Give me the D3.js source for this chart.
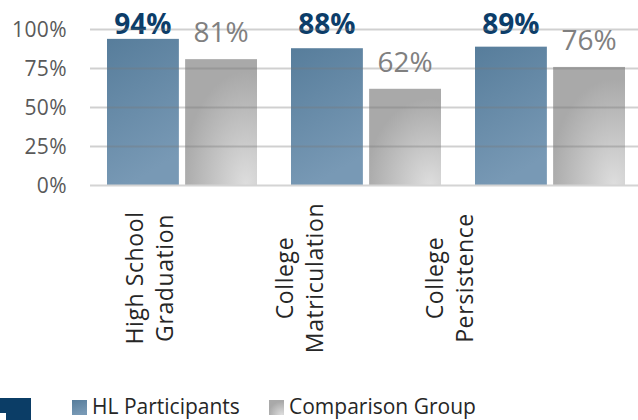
<!DOCTYPE html>
<html><head><meta charset="utf-8">
<script src="https://cdn.jsdelivr.net/npm/d3@7"></script>
<style>body{margin:0;background:#fff}svg{display:block}text{font-family:"Open Sans",sans-serif}</style>
</head><body><svg id="c" width="638" height="420"></svg>
<script>
const categories = [["High School","Graduation"],["College","Matriculation"],["College","Persistence"]];
const seriesNames = ["HL Participants","Comparison Group"];
const hlValues = [94, 88, 89];
const comparisonValues = [81, 62, 76];
const yTicks = [0, 25, 50, 75, 100];

const svg = d3.select("#c");
const defs = svg.append("defs");
const gb = defs.append("linearGradient").attr("id","gBlue").attr("x1",0).attr("y1",0).attr("x2",0.3).attr("y2",1);
gb.append("stop").attr("offset",0).attr("stop-color","#577d9b");
gb.append("stop").attr("offset",1).attr("stop-color","#7899b5");
const gg = defs.append("radialGradient").attr("id","gGray").attr("cx",0.85).attr("cy",1).attr("r",0.9);
gg.append("stop").attr("offset",0).attr("stop-color","#dedede");
gg.append("stop").attr("offset",1).attr("stop-color","#a9a9a9");

const x = d3.scaleBand().domain(d3.range(categories.length)).range([90, 642]).paddingInner(0).paddingOuter(0);
const inner = d3.scaleBand().domain([0,1]).range([17, 167]).paddingInner(0.08);
const y = d3.scaleLinear().domain([0, 100]).range([185.5, 29.5]);
const labelX = d3.scaleBand().domain(d3.range(categories.length)).range([75, 525]);

// y axis labels
svg.append("g").selectAll("text").data(yTicks).join("text")
  .attr("x", 67).attr("y", d => y(d)).attr("dy","0.36em")
  .attr("text-anchor","end").attr("font-size",21).attr("letter-spacing",0.4).attr("fill","#595959")
  .text(d => d + "%");

const series = [hlValues, comparisonValues];
const fills = ["url(#gBlue)","url(#gGray)"];
const groups = svg.append("g").selectAll("g").data(categories).join("g")
  .attr("transform", (d,i) => `translate(${x(i)},0)`);
series.forEach((vals, s) => {
  groups.append("rect")
    .attr("x", inner(s)).attr("width", inner.bandwidth())
    .attr("y", (d,i) => y(vals[i])).attr("height", (d,i) => y(0) - y(vals[i]))
    .attr("fill", fills[s]);
});

// gridlines on top
svg.append("g").selectAll("line").data(yTicks).join("line")
  .attr("x1", 90).attr("x2", 638).attr("y1", d => y(d)).attr("y2", d => y(d))
  .attr("stroke", d => d === 0 ? "#d4d4d4" : "rgba(120,120,120,0.35)").attr("stroke-width", 2);

// value labels
groups.append("text")
  .attr("x", inner(0) + inner.bandwidth()/2)
  .attr("y", (d,i) => Math.min(y(hlValues[i]) - 5, y(100) + 4))
  .attr("text-anchor","middle").attr("font-size",28).attr("font-weight","bold").attr("fill","#0c3d69")
  .text((d,i) => hlValues[i] + "%");
groups.append("text")
  .attr("x", inner(1) + inner.bandwidth()/2)
  .attr("y", (d,i) => y(comparisonValues[i]) - 17)
  .attr("text-anchor","middle").attr("font-size",28).attr("fill","#808080")
  .text((d,i) => comparisonValues[i] + "%");

// category labels
const cl = svg.append("g").selectAll("g").data(categories).join("g")
  .attr("transform", (d,i) => `translate(${labelX(i) + labelX.bandwidth()/2},278) rotate(-90)`);
cl.selectAll("text").data(d => d).join("text")
  .attr("x", 0).attr("y", (d,j) => -7 + j*30)
  .attr("text-anchor","middle").attr("font-size",23).attr("letter-spacing",0.6).attr("fill","#262626")
  .text(d => d);

// legend
const legend = svg.append("g");
const lx = [72, 269];
seriesNames.forEach((n, i) => {
  legend.append("rect").attr("x", lx[i]).attr("y", 400).attr("width", 15).attr("height", 15).attr("fill", fills[i]);
  legend.append("text").attr("x", lx[i] + 20).attr("y", 414).attr("font-size", 21).attr("fill","#262626").text(n);
});

// partial logo
svg.append("rect").attr("x",0).attr("y",398).attr("width",31).attr("height",22).attr("fill","#0b3d66");
svg.append("rect").attr("x",0).attr("y",413).attr("width",6).attr("height",7).attr("fill","#ffffff");
</script></body></html>
